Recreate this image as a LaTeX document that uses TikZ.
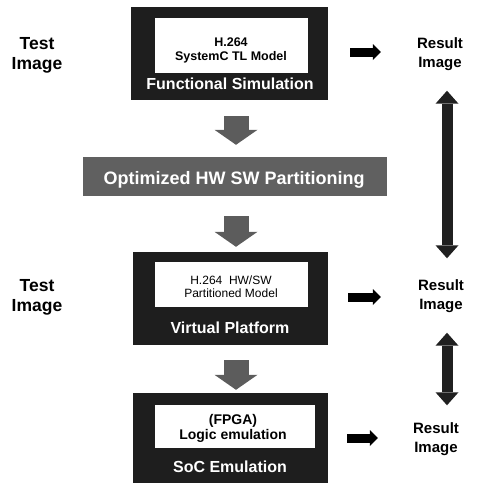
\documentclass[tikz,border=0pt]{standalone}
\usepackage{fontspec}
\setmainfont{Liberation Sans}
\usetikzlibrary{arrows.meta}
\definecolor{boxdark}{HTML}{1E1E1E}
\definecolor{bandgray}{HTML}{606060}
\definecolor{arrgray}{HTML}{5C5C5C}
\definecolor{arrdark}{HTML}{202020}
\begin{document}
\begin{tikzpicture}[x=1pt,y=-1pt,
  outerbox/.style={fill=boxdark, draw=none, inner sep=0pt},
  innerbox/.style={fill=white, draw=none, inner sep=0pt},
  boxtitle/.style={text=white, inner sep=0pt, font=\fontsize{16}{19}\selectfont\bfseries},
  innertext/.style={align=center, inner sep=0pt, font=\fontsize{12.5}{14}\selectfont\bfseries},
  innerthin/.style={align=center, inner sep=0pt, font=\fontsize{12}{13}\selectfont},
  sidelabel/.style={align=center, inner sep=0pt, font=\fontsize{17.5}{20}\selectfont\bfseries},
  reslabel/.style={align=center, inner sep=0pt, font=\fontsize{15}{19}\selectfont\bfseries},
  downarr/.style={draw=arrgray, line width=25pt, -{Triangle[width=43pt,length=15pt,line width=0pt]}},
  dblarr/.style={draw=arrdark, line width=11pt, {Triangle[width=23pt,length=13pt,line width=0pt]}-{Triangle[width=23pt,length=13pt,line width=0pt]}},
  rarr/.style={draw=black, line width=9pt, -{Triangle[width=16pt,length=8pt,line width=0pt]}}
]
\useasboundingbox (0,0) rectangle (495,483);

% boxes
\node[outerbox, minimum width=197pt, minimum height=93pt] (box1) at (229.5,53.5) {};
\node[innerbox, minimum width=153pt, minimum height=55pt] (in1) at (231.5,45.5) {};
\node[innertext] (t1) at (231,50) {H.264\\SystemC TL Model};
\node[boxtitle] (f1) at (230,84) {Functional Simulation};

\node[fill=bandgray, draw=none, inner sep=0pt, minimum width=304pt, minimum height=39pt] (band) at (235,176.5) {};
\node[text=white, inner sep=0pt, font=\fontsize{18}{20}\selectfont\bfseries] (bandtext) at (234,180) {Optimized HW SW Partitioning};

\node[outerbox, minimum width=195pt, minimum height=93pt] (box2) at (230.5,298.5) {};
\node[innerbox, minimum width=153pt, minimum height=45pt] (in2) at (231.5,284.5) {};
\node[innerthin] (t2) at (231,287) {H.264\ \ HW/SW\\Partitioned Model};
\node[boxtitle] (f2) at (230,328) {Virtual Platform};

\node[outerbox, minimum width=195pt, minimum height=90pt] (box3) at (230.5,438) {};
\node[innerbox, minimum width=160pt, minimum height=43pt] (in3) at (235,426.5) {};
\node[innertext, font=\fontsize{14}{15}\selectfont\bfseries] (t3) at (233,428) {(FPGA)\\Logic emulation};
\node[boxtitle] (f3) at (230,467) {SoC Emulation};

% side labels
\node[sidelabel] (test1) at (37,55) {Test\\Image};
\node[sidelabel] (test2) at (37,297) {Test\\Image};
\node[reslabel] (r1) at (440,54) {Result\\Image};
\node[reslabel] (r2) at (441,296) {Result\\Image};
\node[reslabel] (r3) at (436,439) {Result\\Image};

% down arrows
\draw[downarr, shorten <=16pt, shorten >=12pt] ([xshift=6.5pt]box1.south) -- ([xshift=1pt]band.north);
\draw[downarr, shorten <=20pt, shorten >=5pt] ([xshift=1pt]band.south) -- ([xshift=5.5pt]box2.north);
\draw[downarr, shorten <=15pt, shorten >=3pt] ([xshift=5.5pt]box2.south) -- ([xshift=5.5pt]box3.north);

% right arrows
\draw[rarr, shorten <=22pt, shorten >=36pt] (box1.east |- 0,52) -- (r1.west |- 0,52);
\draw[rarr, shorten <=20pt, shorten >=37pt] (box2.east |- 0,297) -- (r2.west |- 0,297);
\draw[rarr, shorten <=19pt, shorten >=35pt] (box3.east |- 0,438) -- (r3.west |- 0,438);

% double arrows
\draw[dblarr, shorten <=20pt, shorten >=21pt] ([xshift=7pt]r1.south) -- ([xshift=6pt]r2.north);
\draw[dblarr, shorten <=20pt, shorten >=17pt] ([xshift=6pt]r2.south) -- ([xshift=11pt]r3.north);
\end{tikzpicture}
\end{document}
